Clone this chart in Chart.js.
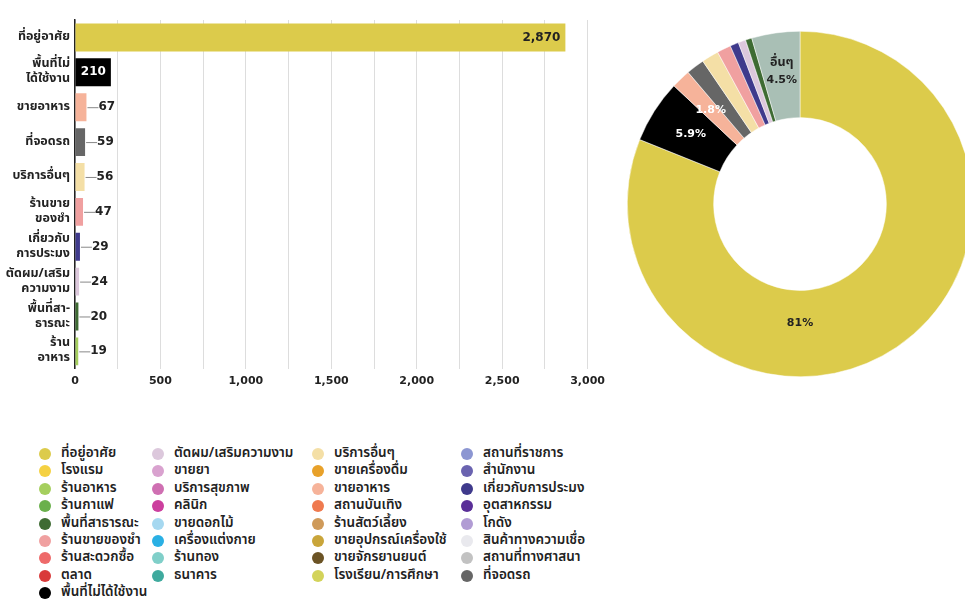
<!DOCTYPE html>
<html>
<head>
<meta charset="utf-8">
<script src="https://cdn.jsdelivr.net/npm/chart.js@4.4.1/dist/chart.umd.min.js"></script>
<style>
  html, body { margin: 0; padding: 0; background: #fff; overflow: hidden; }
  body { width: 965px; height: 599px; position: relative; }
  #barBox { position: absolute; left: 0; top: 0; width: 611px; height: 394px; }
  #pieBox { position: absolute; left: 627px; top: 31px; width: 346px; height: 346px; }
  #legend { position: absolute; left: 0; top: 445px; width: 965px; height: 154px;
            font-family: "Noto Sans Thai", "Noto Sans", sans-serif; font-size: 13.5px;
            font-weight: 600; color: #222; }
  .col { position: absolute; top: 0; }
  .item { height: 17.4px; line-height: 17.4px; white-space: nowrap; position: relative; padding-left: 22px; }
  .dot { position: absolute; left: 0; top: 3px; width: 12px; height: 12px; border-radius: 50%; }
</style>
</head>
<body>
<div id="barBox"><canvas id="barChart" width="611" height="394"></canvas></div>
<div id="pieBox"><canvas id="pieChart" width="346" height="346"></canvas></div>
<div id="legend"></div>

<script>
// bar chart data
const barLabels = [
  ["ที่อยู่อาศัย"],
  ["พื้นที่ไม่", "ได้ใช้งาน"],
  ["ขายอาหาร"],
  ["ที่จอดรถ"],
  ["บริการอื่นๆ"],
  ["ร้านขาย", "ของชำ"],
  ["เกี่ยวกับ", "การประมง"],
  ["ตัดผม/เสริม", "ความงาม"],
  ["พื้นที่สา-", "ธารณะ"],
  ["ร้าน", "อาหาร"]
];
const barValues = [2870, 210, 67, 59, 56, 47, 29, 24, 20, 19];
const barColors = ["#dccb4b", "#000000", "#f6b39a", "#666666", "#f4dfa6",
                   "#f0a0a0", "#3f3a8c", "#dcc8dc", "#3e6b33", "#a5cf5e"];

// doughnut data (percent of all places)
const pieLabels = ["ที่อยู่อาศัย", "พื้นที่ไม่ได้ใช้งาน", "ขายอาหาร", "ที่จอดรถ", "บริการอื่นๆ",
                   "ร้านขายของชำ", "เกี่ยวกับการประมง", "ตัดผม/เสริมความงาม", "พื้นที่สาธารณะ", "อื่นๆ"];
const pieShares = [81, 5.9, 1.8, 1.7, 1.6, 1.3, 0.8, 0.7, 0.6, 4.5];
const pieColors = ["#dccb4b", "#000000", "#f6b39a", "#666666", "#f4dfa6",
                   "#f0a0a0", "#3f3a8c", "#dcc8dc", "#3e6b33", "#a9bfb5"];

// legend entries
const legendNames = [
  "ที่อยู่อาศัย", "โรงแรม", "ร้านอาหาร", "ร้านกาแฟ", "พื้นที่สาธารณะ", "ร้านขายของชำ", "ร้านสะดวกซื้อ", "ตลาด", "พื้นที่ไม่ได้ใช้งาน",
  "ตัดผม/เสริมความงาม", "ขายยา", "บริการสุขภาพ", "คลินิก", "ขายดอกไม้", "เครื่องแต่งกาย", "ร้านทอง", "ธนาคาร",
  "บริการอื่นๆ", "ขายเครื่องดื่ม", "ขายอาหาร", "สถานบันเทิง", "ร้านสัตว์เลี้ยง", "ขายอุปกรณ์เครื่องใช้", "ขายจักรยานยนต์", "โรงเรียน/การศึกษา",
  "สถานที่ราชการ", "สำนักงาน", "เกี่ยวกับการประมง", "อุตสาหกรรม", "โกดัง", "สินค้าทางความเชื่อ", "สถานที่ทางศาสนา", "ที่จอดรถ"
];
const legendColors = [
  "#dccb4b", "#f5d142", "#a5cf5e", "#6ab04c", "#3e6b33", "#f0a0a0", "#ee6a6a", "#d93a3a", "#000000",
  "#dcc8dc", "#d9a2cf", "#cf6fb2", "#cc3f9e", "#a6d8f0", "#2ab0e4", "#80cfc9", "#3faa9e",
  "#f4dfa6", "#e8a12a", "#f6b39a", "#ef7a4f", "#cf9a5a", "#c9a53a", "#6b5325", "#d3d35a",
  "#8c96d2", "#6a63b0", "#3f3a8c", "#5a2f98", "#b19cd4", "#e9e9ee", "#c2c2c2", "#666666"
];
const legendColumns = [9, 8, 8, 8];

const thaiFont = '"Noto Sans Thai", "Noto Sans", sans-serif';
const numFont = '"DejaVu Sans", Verdana, sans-serif';

// value labels at the end of each bar, with a short leader line for the small ones
const barValueLabels = {
  id: "barValueLabels",
  afterDatasetsDraw(chart) {
    const ctx = chart.ctx;
    const meta = chart.getDatasetMeta(0);
    ctx.save();
    ctx.font = "bold 12px " + numFont;
    ctx.textBaseline = "middle";
    meta.data.forEach((bar, i) => {
      const v = barValues[i];
      const txt = v.toLocaleString("en-US");
      const w = bar.x - bar.base;
      if (w > 30) {
        ctx.textAlign = "right";
        ctx.fillStyle = barColors[i] === "#000000" ? "#fff" : "#222";
        ctx.fillText(txt, bar.x - 5, bar.y);
      } else {
        ctx.strokeStyle = "#888";
        ctx.lineWidth = 1;
        ctx.beginPath();
        ctx.moveTo(bar.x + 1, bar.y + 0.5);
        ctx.lineTo(bar.x + 12, bar.y + 0.5);
        ctx.stroke();
        ctx.textAlign = "left";
        ctx.fillStyle = "#222";
        ctx.fillText(txt, bar.x + 12, bar.y);
      }
    });
    ctx.restore();
  }
};

new Chart(document.getElementById("barChart"), {
  type: "bar",
  data: {
    labels: barLabels,
    datasets: [{
      data: barValues,
      backgroundColor: barColors,
      borderWidth: 0,
      barPercentage: 0.8,
      categoryPercentage: 1
    }]
  },
  options: {
    indexAxis: "y",
    responsive: false,
    animation: false,
    layout: { padding: { top: 12, right: 0, left: 0, bottom: 0 } },
    plugins: { legend: { display: false }, tooltip: { enabled: false } },
    scales: {
      x: {
        min: 0, max: 3000,
        grid: { color: "#dddddd", lineWidth: 1, drawTicks: false },
        border: { display: false },
        ticks: {
          stepSize: 250,
          padding: 6,
          color: "#222",
          font: { family: numFont, size: 11, weight: "bold" },
          callback: v => (v % 500 === 0 ? v.toLocaleString("en-US") : "")
        }
      },
      y: {
        grid: { display: false, drawTicks: false },
        border: { color: "#222", width: 1.5 },
        afterFit(scale) { scale.width = 75; },
        ticks: {
          padding: 5,
          color: "#222",
          font: { family: thaiFont, size: 12.5, weight: "bold", lineHeight: 1.2 }
        }
      }
    }
  },
  plugins: [barValueLabels]
});

// percentage labels on the doughnut
const pieTextColors = ["#222", "#fff", "#fff", "#fff", "#222", "#222", "#fff", "#222", "#fff", "#222"];
const pieValueLabels = {
  id: "pieValueLabels",
  afterDatasetsDraw(chart) {
    const ctx = chart.ctx;
    const meta = chart.getDatasetMeta(0);
    ctx.save();
    ctx.textAlign = "center";
    ctx.textBaseline = "middle";
    meta.data.forEach((arc, i) => {
      const share = pieShares[i];
      if (share < 1.8) return;
      const p = arc.getProps(["x", "y", "startAngle", "endAngle", "innerRadius", "outerRadius"], true);
      const big = p.endAngle - p.startAngle > Math.PI;
      const mid = big ? Math.PI / 2 : (p.startAngle + p.endAngle) / 2;
      const r = (p.innerRadius + p.outerRadius) / 2 - (big ? 10 : 0);
      const x = p.x + Math.cos(mid) * r;
      const y = p.y + Math.sin(mid) * r;
      ctx.fillStyle = pieTextColors[i];
      if (pieLabels[i] === "อื่นๆ") {
        ctx.font = "bold 12.5px " + thaiFont;
        ctx.fillText(pieLabels[i], x, y - 12);
        ctx.font = "bold 11px " + numFont;
        ctx.fillText(share + "%", x, y + 4);
      } else {
        ctx.font = "bold 11px " + numFont;
        ctx.fillText(share + "%", x, y);
      }
    });
    ctx.restore();
  }
};

new Chart(document.getElementById("pieChart"), {
  type: "doughnut",
  data: {
    labels: pieLabels,
    datasets: [{
      data: pieShares,
      backgroundColor: pieColors,
      borderColor: "#fff",
      borderWidth: 0.5
    }]
  },
  options: {
    responsive: false,
    animation: false,
    cutout: "50%",
    layout: { padding: 0 },
    plugins: { legend: { display: false }, tooltip: { enabled: false } }
  },
  plugins: [pieValueLabels]
});

// legend in four columns
const legendEl = document.getElementById("legend");
const colLeft = [39, 152, 312, 461];
let k = 0;
legendColumns.forEach((count, c) => {
  const col = document.createElement("div");
  col.className = "col";
  col.style.left = colLeft[c] + "px";
  for (let j = 0; j < count; j++, k++) {
    const item = document.createElement("div");
    item.className = "item";
    const dot = document.createElement("span");
    dot.className = "dot";
    dot.style.background = legendColors[k];
    item.appendChild(dot);
    item.appendChild(document.createTextNode(legendNames[k]));
    col.appendChild(item);
  }
  legendEl.appendChild(col);
});
</script>
</body>
</html>
